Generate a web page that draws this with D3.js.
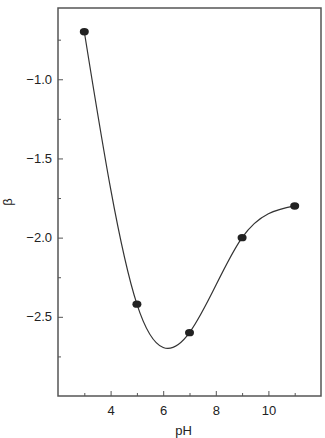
<!DOCTYPE html>
<script src="https://d3js.org/d3.v7.min.js"></script>
<html>
<style>
    body { margin: 0; background: #fff; }
    text { font-family: "Liberation Sans", Arial, sans-serif; fill: #222; }
    .tick text { font-size: 13px; }
</style>
<body>
<script>
var width = 325, height = 438;
var margin = {top: 8, right: 4, bottom: 42, left: 58};

// data
var ph = [3, 5, 7, 9, 11];
var beta = [-0.70, -2.42, -2.60, -2.00, -1.80];
var xTicks = [4, 6, 8, 10];
var xMinor = [3, 5, 7, 9, 11];
var yTicks = [-1.0, -1.5, -2.0, -2.5];
var yMinor = [-0.75, -1.25, -1.75, -2.25, -2.75];

var svg = d3.select("body").append("svg")
    .attr("width", width)
    .attr("height", height);

var x = d3.scaleLinear().domain([2, 12]).range([margin.left, width - margin.right]);
var y = d3.scaleLinear().domain([-3.0, -0.55]).range([height - margin.bottom, margin.top]);

var axisColor = "#555";

// frame
svg.append("rect")
    .attr("x", x(2)).attr("y", y(-0.55))
    .attr("width", x(12) - x(2)).attr("height", y(-3.0) - y(-0.55))
    .style("fill", "none").style("stroke", axisColor).style("stroke-width", 1.5);

// bottom axis, ticks inward
var xAxis = svg.append("g")
    .attr("transform", "translate(0," + y(-3.0) + ")")
    .call(d3.axisBottom(x).tickValues(xTicks).tickSize(-5).tickPadding(10).tickFormat(d3.format("d")));
xAxis.select(".domain").remove();
xAxis.selectAll("line").style("stroke", axisColor);
svg.append("g")
    .attr("transform", "translate(0," + y(-3.0) + ")")
    .call(d3.axisBottom(x).tickValues(xMinor).tickSize(-3).tickFormat(""))
    .call(function(g) { g.select(".domain").remove(); g.selectAll("line").style("stroke", axisColor); });

// left axis, ticks inward
var yAxis = svg.append("g")
    .attr("transform", "translate(" + x(2) + ",0)")
    .call(d3.axisLeft(y).tickValues(yTicks).tickSize(-5).tickPadding(6).tickFormat(d3.format(".1f")));
yAxis.select(".domain").remove();
yAxis.selectAll("line").style("stroke", axisColor);
svg.append("g")
    .attr("transform", "translate(" + x(2) + ",0)")
    .call(d3.axisLeft(y).tickValues(yMinor).tickSize(-3).tickFormat(""))
    .call(function(g) { g.select(".domain").remove(); g.selectAll("line").style("stroke", axisColor); });

// axis titles
svg.append("text")
    .attr("x", (x(2) + x(12)) / 2 - 6)
    .attr("y", 435)
    .attr("text-anchor", "middle")
    .style("font-size", "13px")
    .text("pH");
svg.append("text")
    .attr("transform", "translate(12," + ((y(-0.55) + y(-3.0)) / 2) + ") rotate(-90)")
    .attr("text-anchor", "middle")
    .style("font-size", "13px")
    .text("β");

// smooth fitted curve
var pts = ph.map(function(d, i) { return [d, beta[i]]; });
var line = d3.line()
    .x(function(d) { return x(d[0]); })
    .y(function(d) { return y(d[1]); })
    .curve(d3.curveNatural);
svg.append("path")
    .datum(pts)
    .attr("d", line)
    .style("fill", "none").style("stroke", "#333").style("stroke-width", 1.2);

svg.selectAll("ellipse")
    .data(pts)
    .enter().append("ellipse")
    .attr("cx", function(d) { return x(d[0]); })
    .attr("cy", function(d) { return y(d[1]); })
    .attr("rx", 4.5).attr("ry", 3.7)
    .style("fill", "#222");
</script>
</body></html>
